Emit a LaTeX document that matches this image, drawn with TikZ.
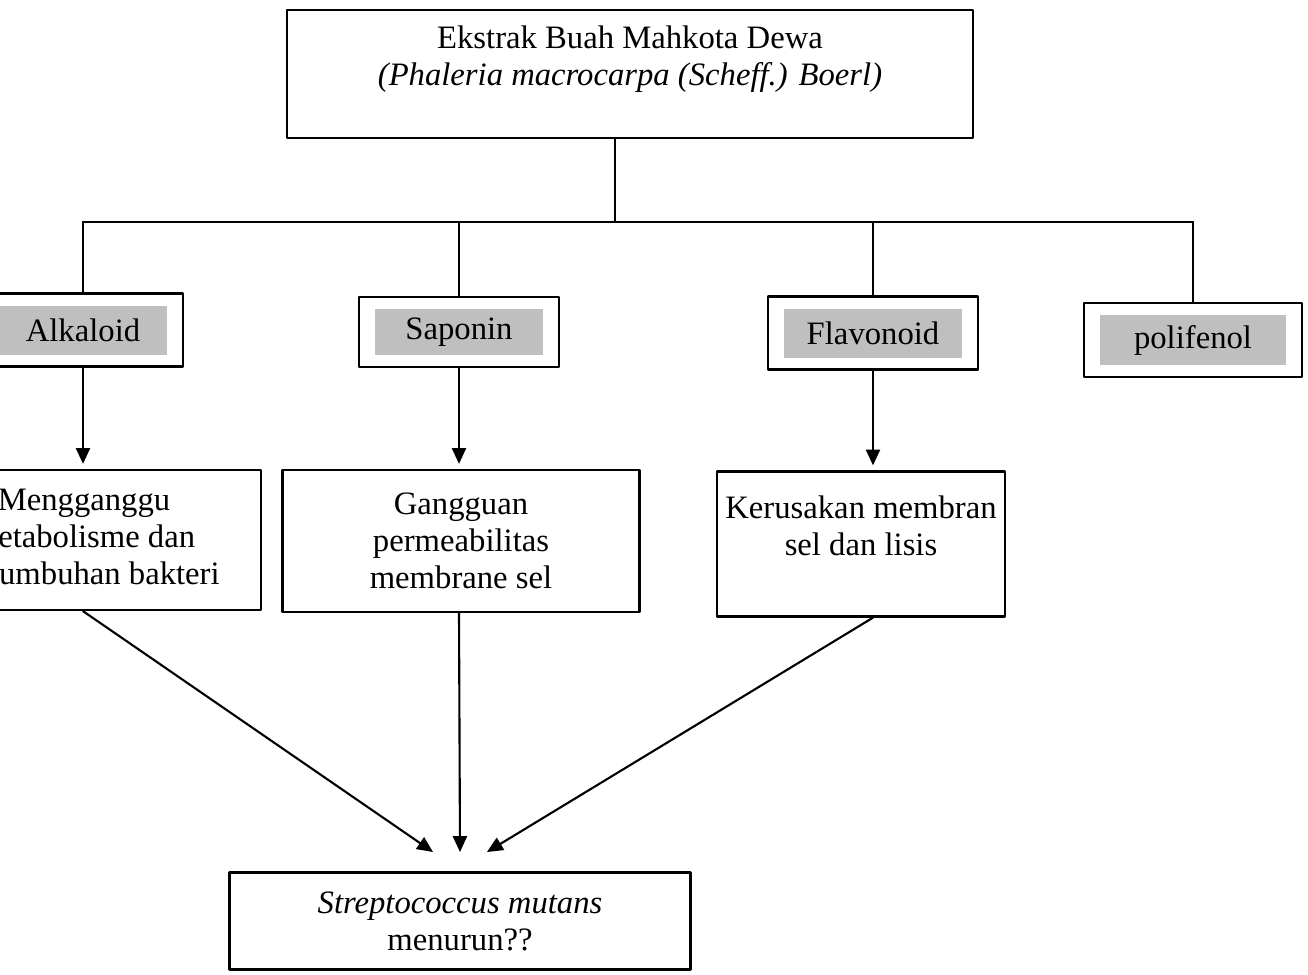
\documentclass[tikz,border=0pt]{standalone}
\usepackage{fontspec}
\setmainfont{Liberation Serif}
\usetikzlibrary{arrows.meta}

\begin{document}
\begin{tikzpicture}[line cap=round,line join=round,>={Triangle[length=9pt,width=8pt]},x=0.02cm,y=-0.02cm,
	kotak/.style={draw,line width=1.3pt,align=center,inner sep=0pt,font=\fontsize{18.6}{21}\selectfont},
	senyawa/.style={kotak,minimum width=4cm,minimum height=1.46cm,
		path picture={\fill[black!25] ([shift={(0.32cm,-0.24cm)}]path picture bounding box.north west) rectangle ([shift={(-0.32cm,0.24cm)}]path picture bounding box.south east);}},
	garis/.style={line width=1.2pt}]
	\useasboundingbox (0,0) rectangle (1308,974);
	\clip (0,0) rectangle (1308,974);
	% ekstrak
	\node[kotak,minimum width=13.72cm,minimum height=2.56cm] (ekstrak) at (630,74) {Ekstrak Buah Mahkota Dewa\\\textit{(Phaleria macrocarpa (Scheff.) Boerl)}\\\mbox{}};
	% senyawa aktif
	\node[senyawa] (alkaloid) at (83,330) {Alkaloid};
	\node[senyawa,minimum height=1.4cm] (saponin) at (459,332) {Saponin};
	\node[senyawa,minimum width=4.2cm] (flavonoid) at (873,333) {Flavonoid};
	\node[senyawa,minimum width=4.35cm,minimum height=1.48cm] (polifenol) at (1193,340) {polifenol};
	% mekanisme
	\node[kotak,minimum width=7.08cm,minimum height=2.8cm] (ganggu) at (84,540) {Mengganggu\\metabolisme dan\\pertumbuhan bakteri};
	\node[kotak,minimum width=7.14cm,minimum height=2.84cm] (permeabilitas) at (461,541) {Gangguan\\permeabilitas\\membrane sel};
	\node[kotak,minimum width=5.76cm,minimum height=2.9cm] (lisis) at (861,544) {Kerusakan membran\\sel dan lisis\\\mbox{}};
	\node[kotak,minimum width=9.22cm,minimum height=1.94cm] (mutans) at (460,921) {\textit{Streptococcus mutans}\\menurun??};
	% cabang
	\coordinate (cabang) at (615,222);
	\draw[garis] (cabang |- ekstrak.south) -- (cabang);
	\draw[garis] (alkaloid.north |- cabang) -- (polifenol.north |- cabang);
	\foreach \s in {alkaloid,saponin,flavonoid,polifenol}
		\draw[garis] (\s.north |- cabang) -- (\s.north);
	\draw[garis,->,shorten >=0.1cm] (alkaloid.south) -- (alkaloid.south |- ganggu.north);
	\draw[garis,->,shorten >=0.1cm] (saponin.south) -- (saponin.south |- permeabilitas.north);
	\draw[garis,->,shorten >=0.1cm] (flavonoid.south) -- (flavonoid.south |- lisis.north);
	% menuju mutans
	\coordinate (tuju1) at (433,852);
	\coordinate (tuju2) at (460,852);
	\coordinate (tuju3) at (487,852);
	\draw[garis,->] (alkaloid.south |- ganggu.south) -- (tuju1);
	\draw[garis,->] (saponin.south |- permeabilitas.south) -- (tuju2);
	\draw[garis,->] (flavonoid.south |- lisis.south) -- (tuju3);
\end{tikzpicture}
\end{document}
